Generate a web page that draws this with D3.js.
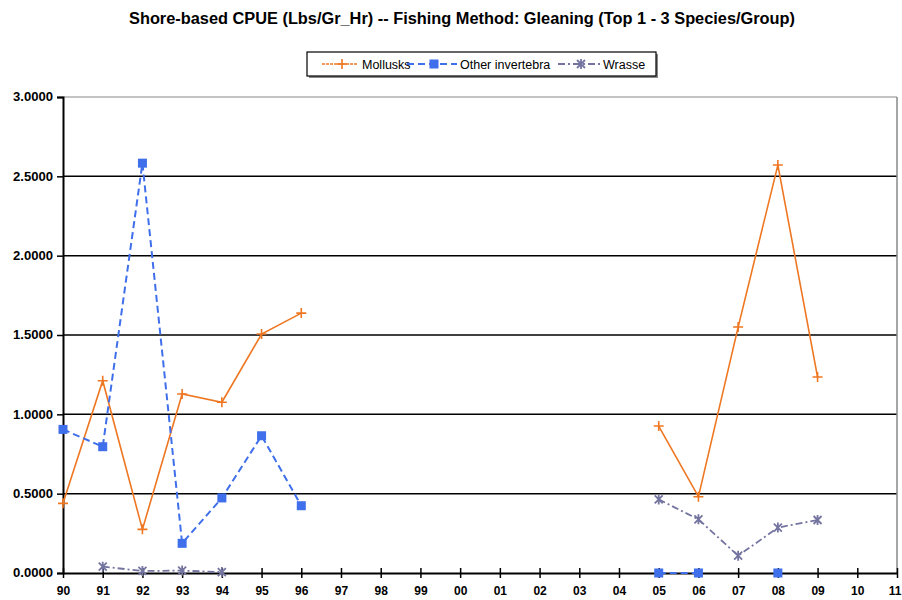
<!DOCTYPE html>
<html>
<head>
<meta charset="utf-8">
<script src="https://cdn.jsdelivr.net/npm/d3@7"></script>
<style>
  body { margin: 0; background: #fff; }
  svg text { font-family: "Liberation Sans", Arial, sans-serif; }
</style>
</head>
<body>
<svg id="chart" width="902" height="600"></svg>
<script>
const years = ["90","91","92","93","94","95","96","97","98","99","00","01","02","03","04","05","06","07","08","09","10","11"];
const mollusks = [0.439, 1.212, 0.275, 1.128, 1.076, 1.506, 1.638, null, null, null, null, null, null, null, null, 0.926, 0.481, 1.55, 2.571, 1.235, null, null];
const otherInv = [0.905, 0.796, 2.583, 0.187, 0.473, 0.865, 0.424, null, null, null, null, null, null, null, null, 0.0, 0.0, null, 0.0, null, null, null];
const wrasse = [null, 0.04, 0.013, 0.015, 0.006, null, null, null, null, null, null, null, null, null, null, 0.464, 0.338, 0.109, 0.286, 0.334, null, null];
const yTicks = [0, 0.5, 1.0, 1.5, 2.0, 2.5, 3.0];

const svg = d3.select("#chart");
const plotL = 63, plotR = 897, plotT = 97, plotB = 573;

const x = d3.scalePoint().domain(years).range([plotL, plotR]);
const y = d3.scaleLinear().domain([0, 3]).range([plotB, plotT]);

// title
svg.append("text")
  .attr("x", 129).attr("y", 24)
  .attr("font-size", "16px").attr("font-weight", "bold")
  .attr("textLength", 666).attr("lengthAdjust", "spacingAndGlyphs")
  .text("Shore-based  CPUE (Lbs/Gr_Hr) -- Fishing Method: Gleaning (Top 1 - 3 Species/Group)");

// gridlines
svg.selectAll(".grid")
  .data(yTicks.filter(d => d > 0)).enter().append("line")
  .attr("x1", plotL).attr("x2", plotR)
  .attr("y1", d => y(d)).attr("y2", d => y(d))
  .attr("stroke", d => d === 3 ? "#888" : "#000")
  .attr("stroke-width", d => d === 3 ? 1 : 1.5);

// right border
svg.append("line")
  .attr("x1", plotR).attr("x2", plotR).attr("y1", plotT).attr("y2", plotB)
  .attr("stroke", "#888").attr("stroke-width", 1.5);

// y axis
const yAxis = svg.append("g")
  .attr("transform", `translate(${plotL},0)`)
  .call(d3.axisLeft(y).tickValues(yTicks).tickFormat(d3.format(".4f")).tickSize(6).tickPadding(4));
yAxis.select(".domain").attr("stroke", "#000").attr("stroke-width", 2);
yAxis.selectAll(".tick line").attr("stroke", "#000").attr("stroke-width", 1.5);
yAxis.selectAll("text").attr("font-size", "12px").attr("font-weight", "bold").attr("fill", "#000")
  .attr("textLength", 40).attr("lengthAdjust", "spacingAndGlyphs");

// x axis
const xAxis = svg.append("g")
  .attr("transform", `translate(0,${plotB})`)
  .call(d3.axisBottom(x).tickSize(5).tickSizeOuter(0).tickPadding(8));
xAxis.select(".domain").attr("stroke", "#000").attr("stroke-width", 2);
xAxis.selectAll(".tick line").attr("stroke", "#000").attr("stroke-width", 1.5).attr("y1", -5);
xAxis.selectAll("text").attr("font-size", "12px").attr("font-weight", "bold").attr("fill", "#000");
// last label sits at the page edge, keep it inside
xAxis.selectAll(".tick").filter(d => d === "11").select("text")
  .attr("text-anchor", "end").attr("x", 4);

const series = [
  { name: "Mollusks", values: mollusks, color: "#EE7722", dash: null, width: 1.6, marker: "plus" },
  { name: "Other invertebra", values: otherInv, color: "#3F6FEA", dash: "7,4", width: 2, marker: "square" },
  { name: "Wrasse", values: wrasse, color: "#7474A0", dash: "7,3,2,3", width: 1.8, marker: "star" }
];

const line = d3.line()
  .defined(d => d != null)
  .x((d, i) => x(years[i]))
  .y(d => y(d));

function drawMarker(g, type, color, cx, cy) {
  if (type === "plus") {
    g.append("path").attr("d", `M${cx - 5},${cy}H${cx + 5}M${cx},${cy - 5}V${cy + 5}`)
      .attr("stroke", color).attr("stroke-width", 1.6).attr("fill", "none");
  } else if (type === "square") {
    g.append("rect").attr("x", cx - 4.5).attr("y", cy - 4.5).attr("width", 9).attr("height", 9)
      .attr("fill", color);
  } else {
    g.append("path").attr("d", `M${cx - 4},${cy - 4}L${cx + 4},${cy + 4}M${cx + 4},${cy - 4}L${cx - 4},${cy + 4}M${cx},${cy - 5}V${cy + 5}`)
      .attr("stroke", color).attr("stroke-width", 1.8).attr("fill", "none");
  }
}

series.forEach(s => {
  const g = svg.append("g");
  g.append("path")
    .attr("d", line(s.values))
    .attr("fill", "none")
    .attr("stroke", s.color)
    .attr("stroke-width", s.width)
    .attr("stroke-dasharray", s.dash);
  s.values.forEach((v, i) => {
    if (v != null) drawMarker(g, s.marker, s.color, x(years[i]), y(v));
  });
});

// legend
const lg = svg.append("g");
lg.append("rect").attr("x", 309).attr("y", 54).attr("width", 349).attr("height", 24)
  .attr("fill", "#888");
lg.append("rect").attr("x", 307).attr("y", 52).attr("width", 349).attr("height", 24)
  .attr("fill", "#fff").attr("stroke", "#000").attr("stroke-width", 1.2);
const legendItems = [
  { lineX: 322, lineW: 36, textX: 362 },
  { lineX: 407, lineW: 50, textX: 460 },
  { lineX: 558, lineW: 42, textX: 603 }
];
series.forEach((s, i) => {
  const it = legendItems[i], ly = 64;
  lg.append("line").attr("x1", it.lineX).attr("x2", it.lineX + it.lineW).attr("y1", ly).attr("y2", ly)
    .attr("stroke", s.color).attr("stroke-width", s.width)
    .attr("stroke-dasharray", s.dash || "3,1");
  drawMarker(lg, s.marker, s.color, it.lineX + it.lineW / 2 + 2, ly);
  lg.append("text").attr("x", it.textX).attr("y", ly + 4.5)
    .attr("font-size", "12.5px").attr("fill", "#000")
    .text(s.name);
});
</script>
</body>
</html>
